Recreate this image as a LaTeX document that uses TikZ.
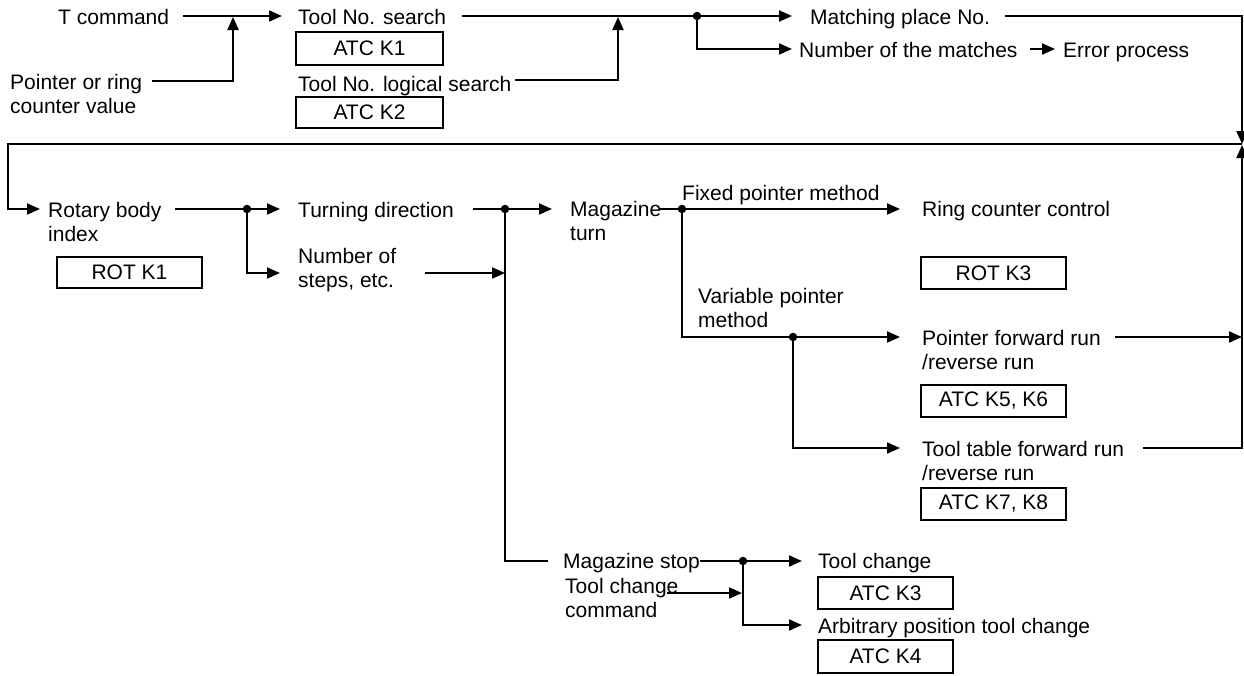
\documentclass[tikz,border=0pt]{standalone}
\usepackage{fontspec}
\setmainfont{Liberation Sans}
\usetikzlibrary{arrows.meta}
\newcommand{\twoline}[2]{\begin{tabular}[t]{@{}l@{}}#1\\#2\end{tabular}}
\begin{document}
\begin{tikzpicture}[x=1pt,y=-1pt,
  txt/.style={inner sep=0,anchor=base west,font=\fontsize{21}{24}\selectfont},
  kbox/.style={draw,line width=2,inner sep=0,font=\fontsize{21}{24}\selectfont},
  ln/.style={line width=2},
  arr/.style={ln,-{Triangle[length=13,width=11]}},
  dotc/.style={circle,fill,inner sep=0,minimum size=8.5}]
\useasboundingbox (0,0) rectangle (1244,675);

% ---- texts ----
\node[txt] (tcmd) at (58,24) {T command};
\node[txt] (ptr) at (10,89) {\twoline{Pointer or ring}{counter value}};
\node[txt] (tns) at (298,24) {Tool No. search};
\node[txt] (tnl) at (298,91) {Tool No. logical search};
\node[txt] (mpn) at (810,24) {Matching place No.};
\node[txt] (num) at (799,57) {Number of the matches};
\node[txt] (err) at (1063,57) {Error process};
\node[txt] (rot) at (48,217) {\twoline{Rotary body}{index}};
\node[txt] (turn) at (298,217) {Turning direction};
\node[txt] (steps) at (298,263) {\twoline{Number of}{steps, etc.}};
\node[txt] (mag) at (570,216) {\twoline{Magazine}{turn}};
\node[txt] (fixed) at (682,200) {Fixed pointer method};
\node[txt] (ring) at (922,216) {Ring counter control};
\node[txt] (var) at (698,303) {\twoline{Variable pointer}{method}};
\node[txt] (pfr) at (922,345) {\twoline{Pointer forward run}{/reverse run}};
\node[txt] (ttfr) at (922,456) {\twoline{Tool table forward run}{/reverse run}};
\node[txt] (mstop) at (563,568) {Magazine stop};
\node[txt] (tcc) at (565,593) {\twoline{Tool change}{command}};
\node[txt] (tc) at (818,568) {Tool change};
\node[txt] (apc) at (818,633) {Arbitrary position tool change};

% ---- boxes ----
\node[kbox,minimum width=147,minimum height=33] (bk1) at (369.5,48.5) {ATC K1};
\node[kbox,minimum width=147,minimum height=31] (bk2) at (369.5,112.5) {ATC K2};
\node[kbox,minimum width=145,minimum height=31] (brk1) at (129.5,272.5) {ROT K1};
\node[kbox,minimum width=145,minimum height=32] (brk3) at (993.5,273) {ROT K3};
\node[kbox,minimum width=145,minimum height=32] (bk56) at (993.5,401) {ATC K5, K6};
\node[kbox,minimum width=145,minimum height=32] (bk78) at (993.5,504) {ATC K7, K8};
\node[kbox,minimum width=135,minimum height=32] (bk3) at (885.5,593) {ATC K3};
\node[kbox,minimum width=135,minimum height=33] (bk4) at (885.5,656.5) {ATC K4};

% ---- junction points ----
\coordinate (c1s) at (183,16);   \coordinate (c1e) at (282,16);
\coordinate (c2s) at (152,81);   \coordinate (c2k) at (233,81);  \coordinate (c2e) at (233,17);
\coordinate (c3s) at (462,16);   \coordinate (c3e) at (792,16);
\coordinate (c4s) at (515,80);   \coordinate (c4k) at (618,80);  \coordinate (c4e) at (618,17);
\node[dotc] (d1) at (697,16) {};
\coordinate (c5k) at (697,49);   \coordinate (c5e) at (792,49);
\coordinate (c6s) at (1030,49);  \coordinate (c6e) at (1055,49);
\coordinate (c7s) at (1005,16);  \coordinate (rtop) at (1242,16); \coordinate (rj) at (1242,144);
\coordinate (lj) at (8,144);     \coordinate (lk) at (8,209);     \coordinate (c8e) at (40,209);
\coordinate (c9s) at (175,209);  \coordinate (c9e) at (280,209);
\node[dotc] (d2) at (247,209) {};
\coordinate (c10k) at (247,273); \coordinate (c10e) at (280,273);
\coordinate (c11s) at (425,273); \coordinate (c11e) at (505,273);
\coordinate (c12s) at (473,209); \coordinate (c12e) at (552,209);
\node[dotc] (d3) at (505,209) {};
\coordinate (c13k) at (505,561); \coordinate (c13e) at (548,561);
\coordinate (c14s) at (660,209); \coordinate (c14e) at (900,209);
\node[dotc] (d4) at (682,209) {};
\coordinate (c15k) at (682,337); \coordinate (c15e) at (900,337);
\node[dotc] (d5) at (793,337) {};
\coordinate (c16k) at (793,448); \coordinate (c16e) at (900,448);
\coordinate (c17s) at (1115,337); \coordinate (c17e) at (1242,337);
\coordinate (c18s) at (1143,448); \coordinate (c18k) at (1242,448); \coordinate (c18e) at (1242,145);
\coordinate (c19s) at (700,561); \coordinate (c19e) at (802,561);
\node[dotc] (d6) at (743,561) {};
\coordinate (c20k) at (743,625); \coordinate (c20e) at (802,625);
\coordinate (c21s) at (667,593); \coordinate (c21e) at (742,593);

% ---- connectors ----
\draw[arr] (c1s) -- (c1e);
\draw[arr] (c2s) -- (c2k) -- (c2e);
\draw[arr] (c3s) -- (c3e);
\draw[arr] (c4s) -- (c4k) -- (c4e);
\draw[arr] (d1.center) -- (c5k) -- (c5e);
\draw[arr] (c6s) -- (c6e);
\draw[arr] (c7s) -- (rtop) -- (rj);
\draw[arr] (rj) -- (lj) -- (lk) -- (c8e);
\draw[arr] (c9s) -- (c9e);
\draw[arr] (d2.center) -- (c10k) -- (c10e);
\draw[arr] (c11s) -- (c11e);
\draw[arr] (c12s) -- (c12e);
\draw[ln] (d3.center) -- (c13k) -- (c13e);
\draw[arr] (c14s) -- (c14e);
\draw[arr] (d4.center) -- (c15k) -- (c15e);
\draw[arr] (d5.center) -- (c16k) -- (c16e);
\draw[arr] (c17s) -- (c17e);
\draw[arr] (c18s) -- (c18k) -- (c18e);
\draw[arr] (c19s) -- (c19e);
\draw[arr] (d6.center) -- (c20k) -- (c20e);
\draw[arr] (c21s) -- (c21e);
\end{tikzpicture}
\end{document}
